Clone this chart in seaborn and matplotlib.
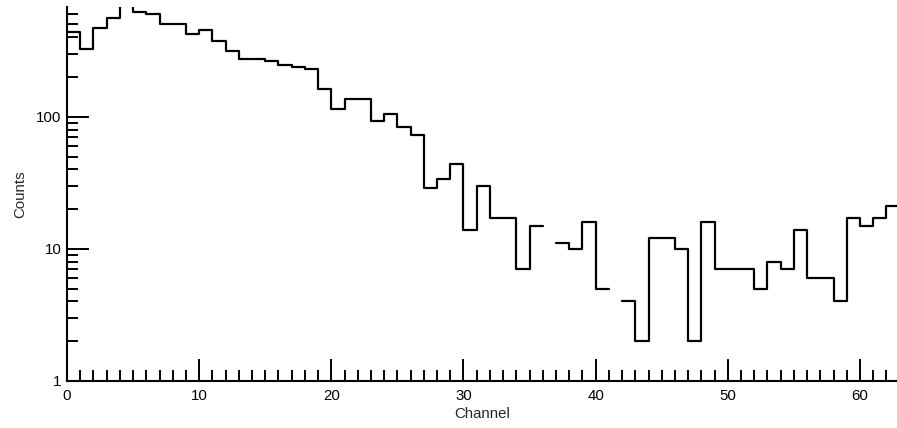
import numpy as np
import pandas as pd
import matplotlib
matplotlib.use("Agg")
import matplotlib.pyplot as plt
from matplotlib.ticker import MultipleLocator, LogLocator, NullFormatter
import seaborn as sns

# channel spectrum, one count per channel (0 = empty channel, drawn as a gap)
channels = list(range(63))
counts = [440, 327, 472, 562, 800, 624, 603, 507, 507, 425,
          456, 377, 316, 273, 273, 266, 245, 238, 231, 163,
          115, 137, 137, 93, 105, 84, 73, 29, 34, 44,
          14, 30, 17, 17, 7, 15, 0, 11, 10, 16,
          5, 0, 4, 2, 12, 12, 10, 2, 16, 7,
          7, 7, 5, 8, 7, 14, 6, 6, 4, 17,
          15, 17, 21]
x_ticks = [0, 10, 20, 30, 40, 50, 60]
y_ticks = [1, 10, 100]
y_tick_labels = ["1", "10", "100"]

# build step outline, broken where a channel is empty
rows = []
seg = 0
gap = True
order = 0
for ch, c in zip(channels, counts):
    if c <= 0:
        gap = True
        continue
    if gap:
        seg += 1
        gap = False
    rows.append((seg, order, ch, c)); order += 1
    rows.append((seg, order, ch + 1, c)); order += 1
df = pd.DataFrame(rows, columns=["segment", "order", "Channel", "Counts"])

sns.set_style("ticks")
plt.rcParams["font.family"] = ["Liberation Sans", "DejaVu Sans"]
plt.rcParams["font.size"] = 10.8

fig = plt.figure(figsize=(8.97, 4.28), dpi=100)
ax = fig.add_axes([67 / 897, 1 - 381 / 428, 830 / 897, 374 / 428])
ax.set_yscale("log")

sns.lineplot(data=df, x="Channel", y="Counts", units="segment", estimator=None,
             sort=False, color="black", lw=1.6, ax=ax)

ax.set_xlim(0, 62.8)
ax.set_ylim(1, 678)

ax.xaxis.set_minor_locator(MultipleLocator(1))
ax.set_xticks(x_ticks)
ax.set_yticks(y_ticks)
ax.set_yticklabels(y_tick_labels)
ax.yaxis.set_minor_locator(LogLocator(base=10, subs=np.arange(2, 10)))
ax.yaxis.set_minor_formatter(NullFormatter())

ax.tick_params(which="major", direction="in", length=15.5, width=1.4, color="black",
               labelsize=10.8, pad=4, labelcolor="black")
ax.tick_params(which="minor", direction="in", length=8, width=1.4, color="black")
ax.tick_params(axis="x", which="major", pad=6)

sns.despine(ax=ax)
for s in ["left", "bottom"]:
    ax.spines[s].set_linewidth(1.5)
    ax.spines[s].set_color("black")

ax.set_xlabel("Channel", fontsize=10.8, labelpad=3)
ax.set_ylabel("Counts", fontsize=10.8, labelpad=6)

fig.savefig("out.png", dpi=100)
